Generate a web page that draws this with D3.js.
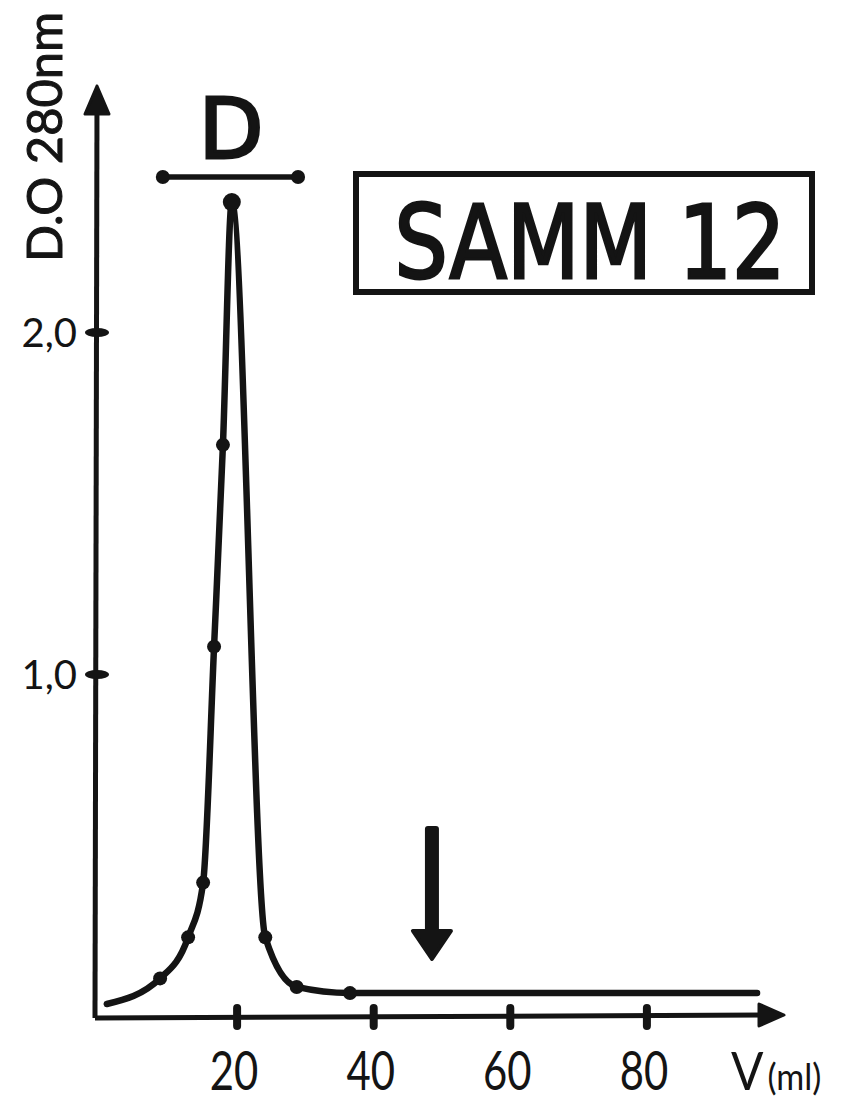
<!DOCTYPE html>
<html>
<head>
<meta charset="utf-8">
<script src="https://cdn.jsdelivr.net/npm/d3@7"></script>
<style>
  html, body { margin: 0; padding: 0; background: #fff; overflow: hidden; }
  svg { display: block; }
</style>
</head>
<body>
<svg id="chart" width="847" height="1108"></svg>
<script>
// ---- data ----
const volumes   = [1.0, 8.8, 12.9, 15.1, 16.7, 18.0, 19.3, 24.2, 28.8, 36.6, 96.2];
const densities = [0.035, 0.11, 0.23, 0.39, 1.08, 1.67, 2.38, 0.23, 0.085, 0.067, 0.067];
const marked    = [false, true, true, true, true, true, true, true, true, true, false];
const xTicks = [20, 40, 60, 80];
const xTickLabels = ["20", "40", "60", "80"];
const yTicks = [1.0, 2.0];
const yTickLabels = ["1,0", "2,0"];
const fractionRange = [9.2, 29.0];   // "D" pooled fraction bar
const fractionLabel = "D";
const arrowVolume = 48.6;
const title = "SAMM 12";
const yTitle = "D.O 280nm";
const xTitleMain = "V";
const xTitleUnit = "(ml)";

// ---- scales ----
const ink = "#141414";
const svg = d3.select("#chart");
const x = d3.scaleLinear().domain([0, 100]).range([100, 783]);
const y = d3.scaleLinear().domain([0, 2.6]).range([1016, 1016 - 2.6 * 342]);
const x0 = 95, y0 = y(0);

const pts = volumes.map((v, i) => ({v, d: densities[i], m: marked[i]}));

// ---- axes (lines + arrowheads) ----
svg.append("line").attr("x1", x0).attr("y1", y0 + 2).attr("x2", x0 + 2).attr("y2", 100)
  .attr("stroke", ink).attr("stroke-width", 5);
svg.append("path").attr("d", `M${x0 + 2},86 L${x0 - 10},114 L${x0 + 14},114 Z`)
  .attr("fill", ink).attr("stroke", ink).attr("stroke-width", 3).attr("stroke-linejoin", "round");
svg.append("line").attr("x1", x0).attr("y1", y0 + 2).attr("x2", 770).attr("y2", y0 - 1)
  .attr("stroke", ink).attr("stroke-width", 5);
svg.append("path").attr("d", `M784,${y0 - 1} L759,${y0 - 12} L759,${y0 + 10} Z`)
  .attr("fill", ink).attr("stroke", ink).attr("stroke-width", 3).attr("stroke-linejoin", "round");

// x axis ticks via d3 axis
const gx = svg.append("g").attr("transform", `translate(0,${y0})`)
  .call(d3.axisBottom(x).tickValues(xTicks).tickFormat((d, i) => xTickLabels[i])
    .tickSize(0).tickPadding(0));
gx.select(".domain").remove();
gx.selectAll(".tick line").remove();
gx.selectAll(".tick").append("rect")
  .attr("x", -4).attr("y", -12).attr("width", 8).attr("height", 26).attr("rx", 4)
  .attr("fill", ink);
gx.selectAll(".tick text")
  .attr("fill", ink).attr("font-family", "Lato, 'Open Sans', sans-serif")
  .attr("font-size", 44).attr("text-anchor", "middle")
  .attr("transform", "translate(-3,74) scale(0.95,1.22)")
  .attr("y", 0).attr("dy", 0);

// y axis ticks via d3 axis
const gy = svg.append("g").attr("transform", `translate(${x0},0)`)
  .call(d3.axisLeft(y).tickValues(yTicks).tickFormat((d, i) => yTickLabels[i])
    .tickSize(0).tickPadding(0));
gy.select(".domain").remove();
gy.selectAll(".tick line").remove();
gy.selectAll(".tick").append("ellipse")
  .attr("cx", 2).attr("cy", 0).attr("rx", 12).attr("ry", 4.5).attr("fill", ink);
gy.selectAll(".tick text")
  .attr("fill", ink).attr("font-family", "Lato, 'Open Sans', sans-serif")
  .attr("font-size", 40).attr("text-anchor", "end")
  .attr("x", -18).attr("dy", "0.36em");

// ---- curve ----
const line = d3.line().x(d => x(d.v)).y(d => y(d.d)).curve(d3.curveMonotoneX);
svg.append("path").datum(pts).attr("d", line)
  .attr("fill", "none").attr("stroke", ink).attr("stroke-width", 6.5)
  .attr("stroke-linejoin", "round").attr("stroke-linecap", "round");
svg.selectAll("circle.mk").data(pts.filter(p => p.m)).join("circle")
  .attr("class", "mk").attr("cx", d => x(d.v)).attr("cy", d => y(d.d))
  .attr("r", d => d.d > 2 ? 9 : 7).attr("fill", ink);

// ---- fraction bar "D" ----
const fy = 177;
svg.append("line").attr("x1", x(fractionRange[0])).attr("x2", x(fractionRange[1]))
  .attr("y1", fy).attr("y2", fy).attr("stroke", ink).attr("stroke-width", 5.5);
svg.selectAll("circle.fe").data(fractionRange).join("circle").attr("class", "fe")
  .attr("cx", d => x(d)).attr("cy", fy).attr("r", 7).attr("fill", ink);
svg.append("text").text(fractionLabel)
  .attr("x", x(19.2)).attr("y", 158).attr("text-anchor", "middle")
  .attr("font-family", "'DejaVu Sans', sans-serif").attr("font-size", 84)
  .attr("fill", ink).attr("stroke", ink).attr("stroke-width", 3);

// ---- arrow marker ----
const ax = x(arrowVolume);
svg.append("rect").attr("x", ax - 7).attr("y", 826).attr("width", 14).attr("height", 112)
  .attr("rx", 3).attr("fill", ink);
svg.append("path").attr("d", `M${ax - 19},931 L${ax + 19},931 L${ax},959 Z`)
  .attr("fill", ink).attr("stroke", ink).attr("stroke-width", 4).attr("stroke-linejoin", "round");

// ---- title box ----
svg.append("rect").attr("x", 356).attr("y", 174).attr("width", 456).attr("height", 118)
  .attr("fill", "none").attr("stroke", ink).attr("stroke-width", 6);
svg.append("text").text(title)
  .attr("transform", "translate(590,278) scale(1,1.2)")
  .attr("text-anchor", "middle")
  .attr("font-family", "'DejaVu Sans', sans-serif").attr("font-size", 84)
  .attr("fill", ink).attr("stroke", ink).attr("stroke-width", 2.5);

// ---- axis titles ----
svg.append("text").text(yTitle)
  .attr("transform", "translate(62,262) rotate(-90)")
  .attr("textLength", 250).attr("lengthAdjust", "spacingAndGlyphs")
  .attr("font-family", "Lato, 'Open Sans', sans-serif").attr("font-size", 48)
  .attr("fill", ink).attr("stroke", ink).attr("stroke-width", 1);
const xt = svg.append("text")
  .attr("transform", "translate(731,1090) scale(1,1.1)")
  .attr("font-family", "Lato, 'Open Sans', sans-serif")
  .attr("fill", ink);
xt.append("tspan").attr("font-size", 48).text(xTitleMain);
xt.append("tspan").attr("font-size", 34).attr("dx", 4).text(xTitleUnit);
</script>
</body>
</html>
